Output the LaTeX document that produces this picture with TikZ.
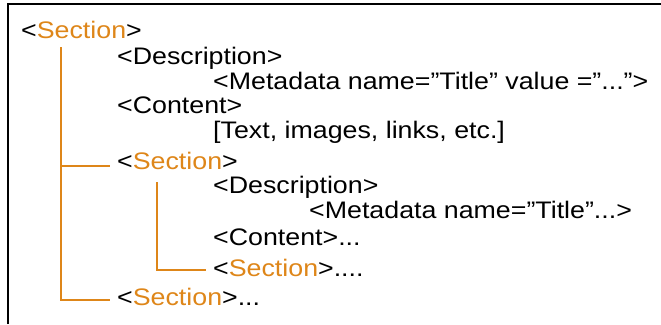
\documentclass[tikz,border=0pt]{standalone}
\usepackage{fontspec}
\setmainfont{Liberation Sans}[FakeStretch=1.12]
\definecolor{secorange}{RGB}{222,134,25}
\tikzset{
  tag/.style={anchor=base west,inner sep=0pt,font=\fontsize{24pt}{28pt}\selectfont},
  tree/.style={draw=secorange,line width=1.4bp},
}
\newcommand{\sectname}{\textcolor{secorange}{Section}}

\begin{document}
\begin{tikzpicture}[x=1bp,y=-1bp]
     \useasboundingbox (0,0) rectangle (661,324);
     \draw[line width=1.5bp] (8,324) -- (8,4) -- (661,4);
     % outer section
     \node[tag] (sec1)  at ( 21, 38) {<\sectname>};
     \node[tag] (desc1) at (117, 64) {<Description>};
     \node[tag] (meta1) at (213, 89) {<Metadata name=”Title” value =”...”>};
     \node[tag] (cont1) at (117,113) {<Content>};
     \node[tag] (text1) at (213,138) {[Text, images, links, etc.]};
     % nested section
     \node[tag] (sec2)  at (117,169) {<\sectname>};
     \node[tag] (desc2) at (213,193) {<Description>};
     \node[tag] (meta2) at (309,218) {<Metadata name=”Title”...>};
     \node[tag] (cont2) at (213,245) {<Content>...};
     \node[tag] (sec3)  at (213,276) {<\sectname>....};
     \node[tag] (sec4)  at (117,305) {<\sectname>...};
     % tree lines
     \coordinate (root1) at ( 61, 47);
     \coordinate (root2) at (157,182);
     \draw[tree] (root1) |- ([xshift=-7bp,yshift=3bp]sec2.base west);
     \draw[tree] (root1) |- ([xshift=-7bp,yshift=5bp]sec4.base west);
     \draw[tree] (root2) |- ([xshift=-7bp,yshift=6bp]sec3.base west);
\end{tikzpicture}
\end{document}
